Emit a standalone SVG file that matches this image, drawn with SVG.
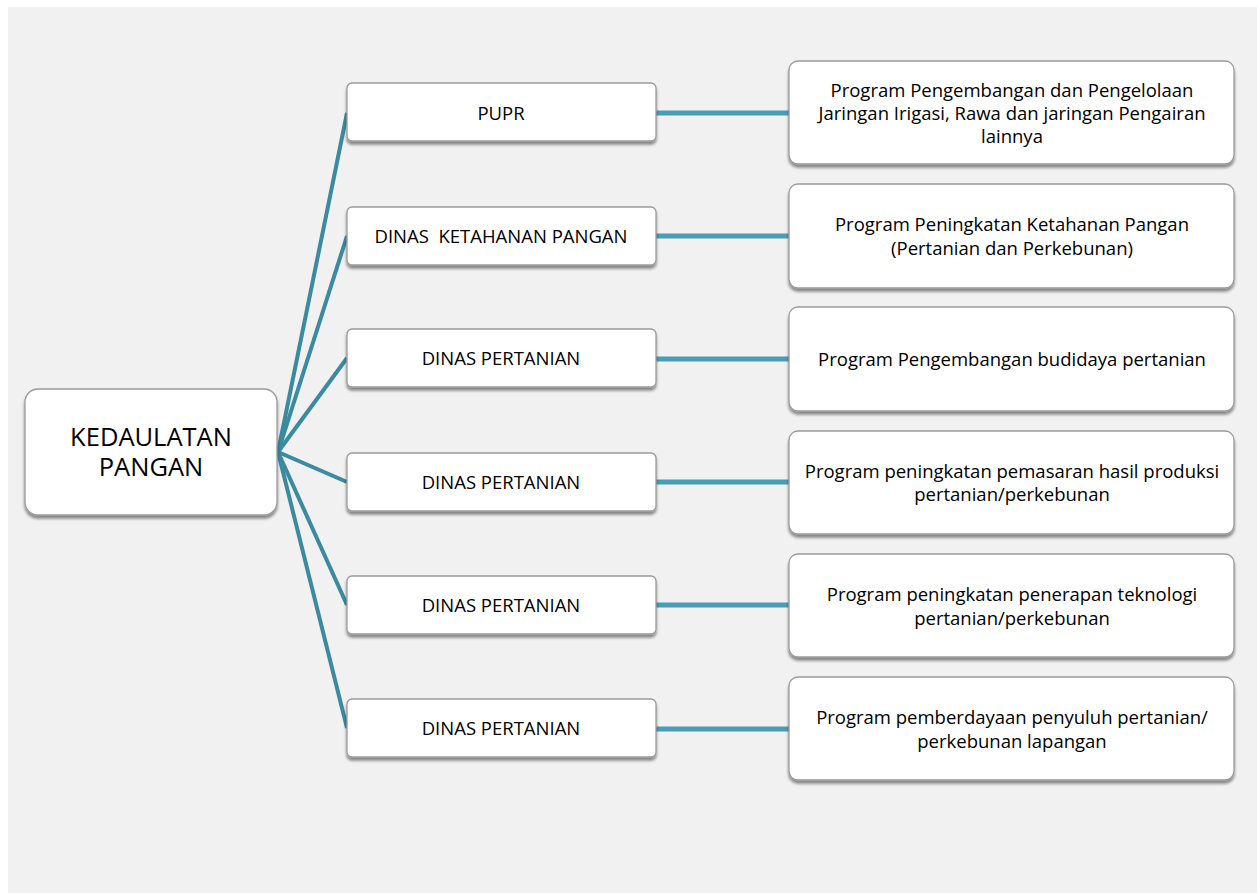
<svg xmlns="http://www.w3.org/2000/svg" width="1257" height="893" viewBox="0 0 1257 893">
  <style>
    .box { fill: #ffffff; stroke: #9a9a9a; stroke-width: 1.3; filter: url(#shadow); }
    .t { font-family: "Open Sans", "Liberation Sans", sans-serif; fill: #000000; text-anchor: middle; }
    .hub { font-size: 25.5px; }
    .mid { font-size: 18.5px; }
    .prog { font-size: 18.5px; }
    .spoke { stroke: #3a8aa0; stroke-width: 4; stroke-linecap: butt; fill: none; }
    .link { stroke: #4a9db6; stroke-width: 5; fill: none; }
  </style>
  <defs>
    <filter id="shadow" x="-10%" y="-20%" width="120%" height="150%">
      <feGaussianBlur in="SourceAlpha" stdDeviation="1.6"/>
      <feOffset dx="0" dy="2.5" result="b"/>
      <feComponentTransfer><feFuncA type="linear" slope="0.45"/></feComponentTransfer>
      <feMerge><feMergeNode/><feMergeNode in="SourceGraphic"/></feMerge>
    </filter>
  </defs>

  <!-- page background -->
  <rect x="0" y="0" width="1257" height="893" fill="#ffffff"/>
  <rect x="8" y="7" width="1249" height="886" fill="#f1f1f1"/>

  <!-- connectors -->
  <g id="connectors">
    <line class="spoke" x1="278" y1="452" x2="347" y2="113"/>
    <line class="spoke" x1="278" y1="452" x2="347" y2="236"/>
    <line class="spoke" x1="278" y1="452" x2="347" y2="358"/>
    <line class="spoke" x1="278" y1="452" x2="347" y2="482"/>
    <line class="spoke" x1="278" y1="452" x2="347" y2="605"/>
    <line class="spoke" x1="278" y1="452" x2="347" y2="728"/>
    <line class="link" x1="656" y1="113" x2="789" y2="113"/>
    <line class="link" x1="656" y1="236" x2="789" y2="236"/>
    <line class="link" x1="656" y1="359" x2="789" y2="359"/>
    <line class="link" x1="656" y1="482" x2="789" y2="482"/>
    <line class="link" x1="656" y1="605" x2="789" y2="605"/>
    <line class="link" x1="656" y1="729" x2="789" y2="729"/>
  </g>

  <!-- root -->
  <g id="kedaulatan-pangan">
    <rect class="box" x="25" y="389" width="252" height="126" rx="13"/>
    <text class="t hub" x="151" y="446">KEDAULATAN</text>
    <text class="t hub" x="151" y="476">PANGAN</text>
  </g>

  <!-- agencies -->
  <g id="pupr">
    <rect class="box" x="347" y="83" width="309" height="58" rx="5"/>
    <text class="t mid" x="501" y="120">PUPR</text>
  </g>
  <g id="dinas-ketahanan-pangan">
    <rect class="box" x="347" y="207" width="309" height="58" rx="5"/>
    <text class="t mid" x="501" y="243" xml:space="preserve">DINAS  KETAHANAN PANGAN</text>
  </g>
  <g id="dinas-pertanian-1">
    <rect class="box" x="347" y="329" width="309" height="58" rx="5"/>
    <text class="t mid" x="501" y="365">DINAS PERTANIAN</text>
  </g>
  <g id="dinas-pertanian-2">
    <rect class="box" x="347" y="453" width="309" height="58" rx="5"/>
    <text class="t mid" x="501" y="489">DINAS PERTANIAN</text>
  </g>
  <g id="dinas-pertanian-3">
    <rect class="box" x="347" y="576" width="309" height="58" rx="5"/>
    <text class="t mid" x="501" y="612">DINAS PERTANIAN</text>
  </g>
  <g id="dinas-pertanian-4">
    <rect class="box" x="347" y="699" width="309" height="58" rx="5"/>
    <text class="t mid" x="501" y="735">DINAS PERTANIAN</text>
  </g>

  <!-- programmes -->
  <g id="program-irigasi">
    <rect class="box" x="789" y="61" width="445" height="103" rx="9"/>
    <text class="t prog" x="1012" y="97">Program Pengembangan dan Pengelolaan</text>
    <text class="t prog" x="1012" y="120">Jaringan Irigasi, Rawa dan jaringan Pengairan</text>
    <text class="t prog" x="1012" y="143">lainnya</text>
  </g>
  <g id="program-ketahanan-pangan">
    <rect class="box" x="789" y="184" width="445" height="104" rx="9"/>
    <text class="t prog" x="1012" y="231">Program Peningkatan Ketahanan Pangan</text>
    <text class="t prog" x="1012" y="255">(Pertanian dan Perkebunan)</text>
  </g>
  <g id="program-budidaya">
    <rect class="box" x="789" y="307" width="445" height="104" rx="9"/>
    <text class="t prog" x="1012" y="366">Program Pengembangan budidaya pertanian</text>
  </g>
  <g id="program-pemasaran">
    <rect class="box" x="789" y="431" width="445" height="103" rx="9"/>
    <text class="t prog" x="1012" y="478">Program peningkatan pemasaran hasil produksi</text>
    <text class="t prog" x="1012" y="501">pertanian/perkebunan</text>
  </g>
  <g id="program-teknologi">
    <rect class="box" x="789" y="554" width="445" height="103" rx="9"/>
    <text class="t prog" x="1012" y="601">Program peningkatan penerapan teknologi</text>
    <text class="t prog" x="1012" y="625">pertanian/perkebunan</text>
  </g>
  <g id="program-penyuluh">
    <rect class="box" x="789" y="677" width="445" height="103" rx="9"/>
    <text class="t prog" x="1012" y="724">Program pemberdayaan penyuluh pertanian/</text>
    <text class="t prog" x="1012" y="748">perkebunan lapangan</text>
  </g>
</svg>
